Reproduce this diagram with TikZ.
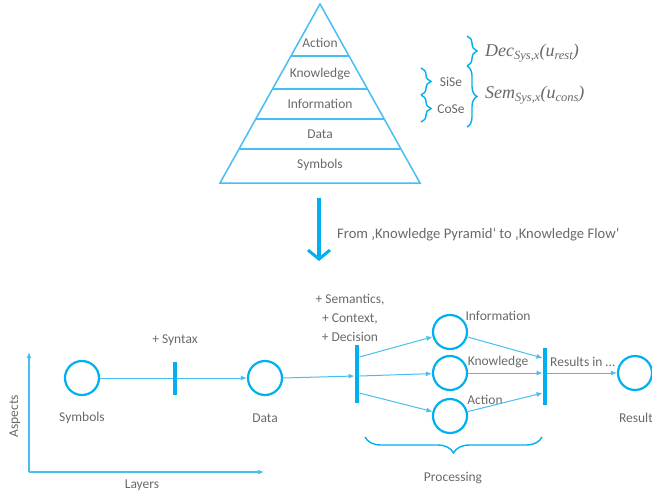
\documentclass[tikz,border=0pt]{standalone}
\usepackage{fontspec}
\setmainfont{Carlito}
\newfontfamily\camb{Liberation Serif}
\usetikzlibrary{arrows.meta,decorations.pathreplacing,calc}
\definecolor{cblue}{RGB}{0,176,240}
\definecolor{lblue}{RGB}{70,190,242}
\definecolor{tgray}{RGB}{105,105,105}
\tikzset{
  lab/.style={text=tgray,font=\fontsize{13.5}{16}\selectfont,inner sep=0pt},
  mlab/.style={text=tgray,font=\camb\itshape\fontsize{18}{20}\selectfont,inner sep=0pt,anchor=west},
  pyr/.style={draw=lblue,line width=1.5pt},
  place/.style={circle,draw=cblue,line width=2.2pt,minimum size=34pt,inner sep=0pt},
  bar/.style={rectangle,fill=cblue,minimum width=4.5pt,inner sep=0pt},
  conn/.style={draw=lblue,line width=1pt,-{Latex[length=6pt,width=5pt]}},
  plain/.style={draw=lblue,line width=1pt},
  brc/.style={draw=cblue,line width=1.4pt,decorate,decoration={brace,amplitude=#1}},
  axis/.style={draw=lblue,line width=1.5pt,-{Latex[length=6pt,width=5pt]}},
}
\newcommand{\sbs}[1]{\raisebox{-3pt}{\fontsize{12.5}{14}\selectfont #1}}
\begin{document}
\begin{tikzpicture}[x=1pt,y=-1pt]
\useasboundingbox (0,0) rectangle (652,495);
% pyramid
\coordinate (apex) at (320,4);
\coordinate (bl) at (220,183);
\coordinate (br) at (420,183);
\draw[pyr,line join=miter] (apex) -- (br) -- (bl) -- cycle;
\foreach \yy in {56,89,119,149}{
  \draw[pyr] ($(apex)!{(\yy-4)/179}!(bl)$) -- ($(apex)!{(\yy-4)/179}!(br)$);
}
\node[lab] (pa) at (320,43) {Action};
\node[lab] (pk) at (320,74) {Knowledge};
\node[lab] (pi) at (320,104) {Information};
\node[lab] (pd) at (320,134) {Data};
\node[lab] (ps) at (320,165) {Symbols};
% braces right
\draw[brc=10pt] (467,36) -- (467,66);
\draw[brc=10pt] (467,66) -- (467,127);
\node[mlab] (dec) at (485,53) {Dec\sbs{Sys,x}(u\sbs{rest})};
\node[mlab] (sem) at (485,95) {Sem\sbs{Sys,x}(u\sbs{cons})};
\draw[brc=10pt] (421,68) -- (421,95);
\draw[brc=10pt] (421,95) -- (421,122);
\node[lab] (sise) at (451,82) {SiSe};
\node[lab] (cose) at (451,109) {CoSe};
% big arrow
\coordinate (a1) at (319,198);
\coordinate (a2) at (319,261);
\draw[draw=cblue,line width=3.5pt,-{Straight Barb[length=9pt,width=22pt,line width=3pt]}] (a1) -- (a2);
\node[lab,anchor=west,font=\fontsize{14.6}{17}\selectfont] (from) at (337,234) {From ‚Knowledge Pyramid‘ to ‚Knowledge Flow‘};
% axes
\coordinate (o) at (29,472);
\coordinate (ay) at (29,352);
\coordinate (ax) at (264,472);
\draw[axis] (o) -- (ay);
\draw[axis] (o) -- (ax);
\node[lab,rotate=90] (aspects) at (15,416) {Aspects};
\node[lab] (layers) at (142,485) {Layers};
% flow
\node[place] (sym) at (82,378) {};
\node[lab] (symL) at (82,418) {Symbols};
\node[bar,minimum height=33pt] (b1) at (175,378.5) {};
\node[lab] (syn) at (175,340) {+ Syntax};
\node[place] (data) at (265,378) {};
\node[lab] (dataL) at (265,418) {Data};
\node[bar,minimum height=58pt] (b2) at (357,374) {};
\node[lab,align=center] (sem2) at (350,318) {+ Semantics,\\[3pt]+ Context,\\[3pt]+ Decision};
\node[place] (info) at (450,332) {};
\node[place] (know) at (450,373) {};
\node[place] (act) at (450,416) {};
\node[lab] (infoL) at (498,316) {Information};
\node[lab] (knowL) at (498,362) {Knowledge};
\node[lab] (actL) at (485,400) {Action};
\node[bar,minimum height=57pt] (b3) at (545,376) {};
\node[lab,anchor=west] (res) at (550,362) {Results in …};
\node[place] (result) at (635,373) {};
\node[lab,anchor=east] (resL) at (653,418) {Result};
% connectors
\draw[plain] (sym) -- (sym -| b1.west);
\draw[conn] (b1.east |- sym) -- (data);
\draw[conn] (data.east) -- (b2.west |- 0,376);
\draw[conn] (b2.east |- 0,357) -- (info);
\draw[conn] (b2.east |- 0,376) -- (know);
\draw[conn] (b2.east |- 0,393) -- (act);
\draw[conn] (info) -- (b3.west |- 0,358);
\draw[conn] (know) -- (b3.west |- 0,373);
\draw[conn] (act) -- (b3.west |- 0,393);
\draw[conn] (b3.east |- 0,373) -- (result);
% processing brace
\draw[brc=16pt] (542,437) -- (365,437);
\node[lab] (proc) at (453,478) {Processing};
\end{tikzpicture}
\end{document}
